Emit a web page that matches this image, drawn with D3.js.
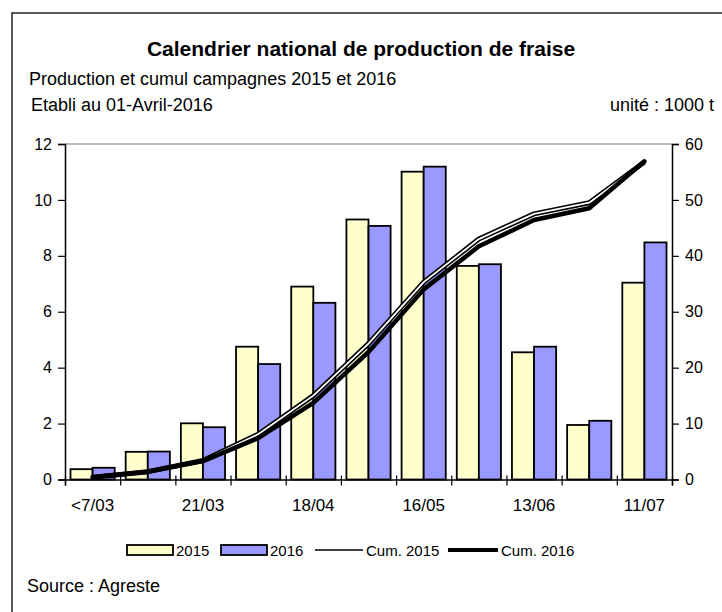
<!DOCTYPE html>
<html>
<head>
<meta charset="utf-8">
<script src="https://cdn.jsdelivr.net/npm/d3@7"></script>
<style>
  body { margin: 0; background: #fff; }
  svg { display: block; font-family: "Liberation Sans", Arial, sans-serif; }
</style>
</head>
<body>
<div id="chart"></div>
<script>
// fortnight labels (only every other one is printed on the axis)
const categories = ["<7/03", "7/03", "21/03", "4/04", "18/04", "2/05", "16/05", "30/05", "13/06", "27/06", "11/07"];
// production, 1000 t (left axis)
const prod2015 = [0.37, 0.99, 2.01, 4.75, 6.9, 9.3, 11.01, 7.64, 4.55, 1.95, 7.04];
const prod2016 = [0.42, 1.0, 1.87, 4.13, 6.32, 9.07, 11.19, 7.7, 4.75, 2.1, 8.48];
// cumulative, 1000 t (right axis)
const cum2015 = [0.4, 1.4, 3.4, 8.1, 15.0, 24.3, 35.3, 43.0, 47.5, 49.5, 56.8];
const cum2016 = [0.4, 1.4, 3.3, 7.4, 13.7, 22.8, 34.0, 41.7, 46.4, 48.5, 56.9];
const leftTicks = [0, 2, 4, 6, 8, 10, 12];
const rightTicks = [0, 10, 20, 30, 40, 50, 60];
const seriesNames = ["2015", "2016"];

const width = 722, height = 612;
const plot = { left: 65, right: 672, top: 144, bottom: 479.5 };

const svg = d3.select("#chart").append("svg")
    .attr("width", width).attr("height", height);

// outer frame (runs off the right and bottom edge)
svg.append("rect").attr("x", 12).attr("y", 13)
    .attr("width", 760).attr("height", 700)
    .attr("fill", "none").attr("stroke", "#222").attr("stroke-width", 1.5);

// titles
svg.append("text").attr("x", 361).attr("y", 56).attr("text-anchor", "middle")
    .style("font-size", "21px").style("font-weight", "bold")
    .text("Calendrier national de production de fraise");
svg.append("text").attr("x", 29).attr("y", 85)
    .style("font-size", "18px").text("Production et cumul campagnes 2015 et 2016");
svg.append("text").attr("x", 31).attr("y", 111)
    .style("font-size", "18px").text("Etabli au 01-Avril-2016");
svg.append("text").attr("x", 714).attr("y", 111).attr("text-anchor", "end")
    .style("font-size", "18px").text("unité : 1000 t");

// scales
const x = d3.scaleBand().domain(categories).range([plot.left, plot.right]);
const xInner = d3.scaleBand().domain(seriesNames)
    .range([5.5, x.bandwidth() - 5.5]);
const yLeft = d3.scaleLinear().domain([0, 12]).range([plot.bottom, plot.top]);
const yRight = d3.scaleLinear().domain([0, 60]).range([plot.bottom, plot.top]);
const idx = d3.scaleLinear().domain([0, categories.length]).range([plot.left, plot.right]);

// top border of the plot area
svg.append("line").attr("x1", plot.left).attr("x2", plot.right)
    .attr("y1", plot.top).attr("y2", plot.top)
    .attr("stroke", "#777").attr("stroke-width", 1);

// bars
const colors = { "2015": "#FFFFCC", "2016": "#9999FF" };
const barData = [];
categories.forEach((c, i) => {
    barData.push({ cat: c, s: "2015", v: prod2015[i] });
    barData.push({ cat: c, s: "2016", v: prod2016[i] });
});
svg.append("g").selectAll("rect").data(barData).join("rect")
    .attr("x", d => x(d.cat) + xInner(d.s))
    .attr("y", d => yLeft(d.v))
    .attr("width", xInner.bandwidth())
    .attr("height", d => yLeft(0) - yLeft(d.v))
    .attr("fill", d => colors[d.s])
    .attr("stroke", "#000").attr("stroke-width", 1.8);

// axes
const tickFont = "16px";
const gl = svg.append("g").attr("transform", "translate(" + plot.left + ",0)")
    .call(d3.axisLeft(yLeft).tickValues(leftTicks).tickSize(7).tickPadding(6));
const gr = svg.append("g").attr("transform", "translate(" + plot.right + ",0)")
    .call(d3.axisRight(yRight).tickValues(rightTicks).tickSize(7).tickPadding(6));
const gb = svg.append("g").attr("transform", "translate(0," + plot.bottom + ")")
    .call(d3.axisBottom(idx).tickValues(d3.range(categories.length + 1))
        .tickSize(6).tickFormat(""));
[gl, gr, gb].forEach(g => {
    g.select(".domain").attr("stroke", "#000").attr("stroke-width", 1.5);
    g.selectAll(".tick line").attr("stroke", "#000").attr("stroke-width", 1.2);
    g.selectAll(".tick text").attr("fill", "#000")
        .style("font-size", tickFont).style("font-family", "Liberation Sans, Arial, sans-serif");
});
gb.selectAll(".tick line").attr("y1", -4);

// category labels, every other fortnight
svg.append("g").selectAll("text")
    .data(categories.filter((c, i) => i % 2 === 0)).join("text")
    .attr("x", d => x(d) + x.bandwidth() / 2)
    .attr("y", 511).attr("text-anchor", "middle")
    .style("font-size", "17px").text(d => d);

// cumulative lines
const line = d3.line()
    .x((d, i) => x(categories[i]) + x.bandwidth() / 2)
    .y(d => yRight(d));
svg.append("path").datum(cum2015).attr("d", line)
    .attr("fill", "none").attr("stroke", "#000").attr("stroke-width", 5)
    .attr("stroke-linejoin", "round");
svg.append("path").datum(cum2015).attr("d", line)
    .attr("fill", "none").attr("stroke", "#fff").attr("stroke-width", 1.8)
    .attr("stroke-linejoin", "round");
svg.append("path").datum(cum2016).attr("d", line)
    .attr("fill", "none").attr("stroke", "#000").attr("stroke-width", 4.5)
    .attr("stroke-linejoin", "round").attr("stroke-linecap", "round");

// legend
const legend = svg.append("g").style("font-size", "15px");
const legendItems = [
    { label: "2015", type: "bar", fill: colors["2015"], x0: 127, x1: 173 },
    { label: "2016", type: "bar", fill: colors["2016"], x0: 221, x1: 267 },
    { label: "Cum. 2015", type: "line", w: 1.5, x0: 315, x1: 363 },
    { label: "Cum. 2016", type: "line", w: 4, x0: 448, x1: 498 }
];
legendItems.forEach(it => {
    if (it.type === "bar") {
        legend.append("rect").attr("x", it.x0).attr("y", 545)
            .attr("width", it.x1 - it.x0).attr("height", 10)
            .attr("fill", it.fill).attr("stroke", "#000").attr("stroke-width", 1.8);
    } else {
        legend.append("line").attr("x1", it.x0).attr("x2", it.x1)
            .attr("y1", 550).attr("y2", 550)
            .attr("stroke", "#000").attr("stroke-width", it.w);
    }
    legend.append("text").attr("x", it.x1 + 3).attr("y", 555.5).text(it.label);
});

// source
svg.append("text").attr("x", 27).attr("y", 592)
    .style("font-size", "18px").text("Source : Agreste");
</script>
</body>
</html>
